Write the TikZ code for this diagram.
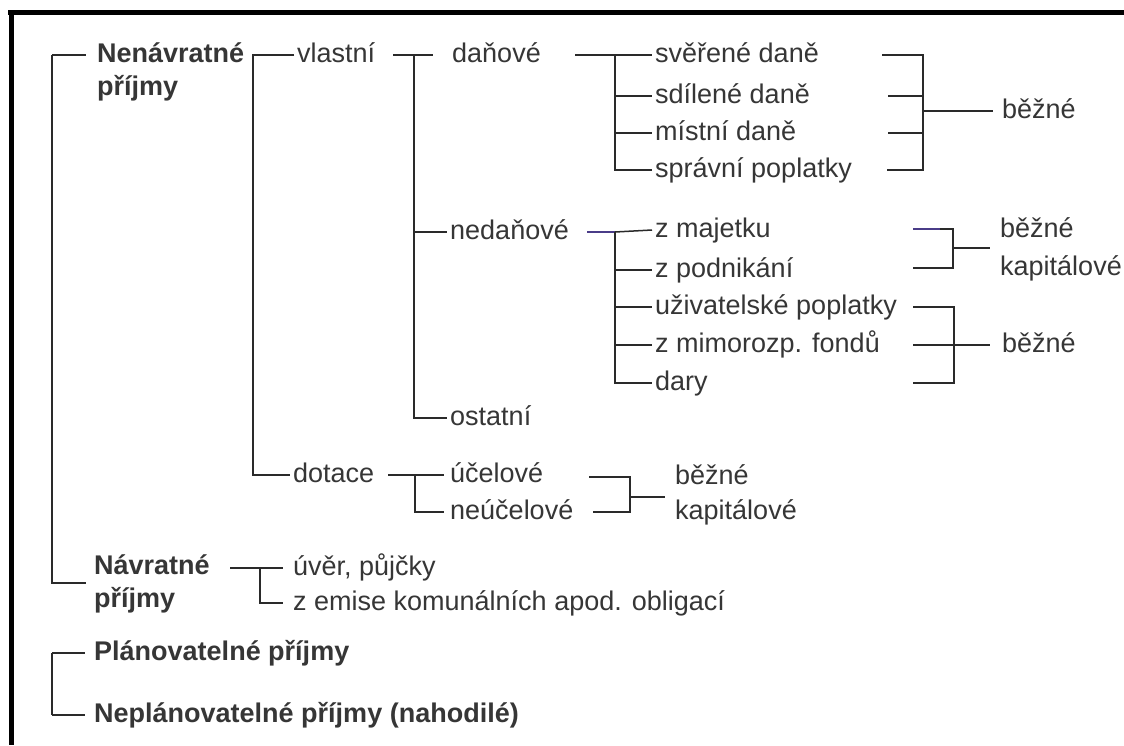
\documentclass[tikz,border=0pt]{standalone}
\usepackage{fontspec}
\setmainfont{Liberation Sans}
\definecolor{txt}{HTML}{363636}
\definecolor{ln}{HTML}{2A2A2A}
\definecolor{pur}{HTML}{4A3C88}
\begin{document}
\begin{tikzpicture}[x=1pt,y=-1pt,
  lbl/.style={anchor=west,inner xsep=3pt,inner ysep=0pt,text height=20pt,text depth=6pt,text=txt,font=\fontsize{27}{33}\selectfont},
  blbl/.style={lbl,font=\fontsize{27}{33}\selectfont\bfseries},
  conn/.style={draw=ln,line width=1.5pt},
  pconn/.style={draw=pur,line width=1.5pt},
  frameline/.style={draw=black,line width=5pt}]
\fill[white] (0,0) rectangle (1124,745);
\useasboundingbox (0,0) rectangle (1124,745);
% frame
\draw[frameline] (8,12) -- (1124,12);
\draw[frameline] (11,10) -- (11,745);

% text nodes
\node[blbl] (nen1) at (94,55) {Nenávratné};
\node[blbl] (nen2) at (94,88) {příjmy};
\node[lbl] (vl) at (294,55) {vlastní};
\node[lbl] (dan) at (449,55) {daňové};
\node[lbl] (sv) at (652,55) {svěřené daně};
\node[lbl] (sd) at (652,96) {sdílené daně};
\node[lbl] (mi) at (652,133) {místní daně};
\node[lbl] (sp) at (652,170) {správní poplatky};
\node[lbl] (bz1) at (999,111) {běžné};
\node[lbl] (ned) at (447,232) {nedaňové};
\node[lbl] (zm) at (652,230) {z majetku};
\node[lbl] (zp) at (652,270) {z podnikání};
\node[lbl] (uz) at (652,307) {uživatelské poplatky};
\node[lbl] (zmi) at (652,345) {z mimorozp. fondů};
\node[lbl] (dar) at (652,383) {dary};
\node[lbl] (bz2) at (997,230) {běžné};
\node[lbl] (kap2) at (997,268) {kapitálové};
\node[lbl] (bz3) at (999,345) {běžné};
\node[lbl] (ost) at (447,418) {ostatní};
\node[lbl] (dot) at (290,475) {dotace};
\node[lbl] (uc) at (447,475) {účelové};
\node[lbl] (neu) at (447,512) {neúčelové};
\node[lbl] (bz4) at (672,477) {běžné};
\node[lbl] (kap4) at (672,512) {kapitálové};
\node[blbl] (nav1) at (91,567) {Návratné};
\node[blbl] (nav2) at (91,600) {příjmy};
\node[lbl] (uv) at (290,568) {úvěr, půjčky};
\node[lbl] (ze) at (290,603) {z emise komunálních apod. obligací};
\node[blbl] (pl) at (91,653) {Plánovatelné příjmy};
\node[blbl] (npl) at (91,715) {Neplánovatelné příjmy (nahodilé)};

% coordinates
\coordinate (aTop) at (52,55);
\coordinate (aBot) at (52,583);
\coordinate (aNav) at (86,583);
\coordinate (bTop) at (253,55);
\coordinate (bBot) at (253,475);
\coordinate (cIn) at (393,55);
\coordinate (cTop) at (414,55);
\coordinate (cBot) at (414,418);
\coordinate (cNed) at (414,232);
\coordinate (dIn) at (575,55);
\coordinate (dTop) at (615,55);
\coordinate (dBot) at (615,170);
\coordinate (dSd) at (615,96);
\coordinate (dMi) at (615,133);
\coordinate (eIn) at (587,232);
\coordinate (eTop) at (615,232);
\coordinate (eBot) at (615,383);
\coordinate (eZp) at (615,270);
\coordinate (eUz) at (615,307);
\coordinate (eZmi) at (615,345);
% right bracket 1
\coordinate (r1a) at (882,55);
\coordinate (r1b) at (888,96);
\coordinate (r1c) at (888,133);
\coordinate (r1d) at (887,170);
\coordinate (r1Top) at (923,55);
\coordinate (r1Bot) at (923,170);
\coordinate (r1Mid) at (923,111);
% right bracket 2
\coordinate (r2a) at (913,229);
\coordinate (r2ap) at (940,229);
\coordinate (r2b) at (913,268);
\coordinate (r2Top) at (953,229);
\coordinate (r2Bot) at (953,268);
\coordinate (r2Mid) at (953,248);
\coordinate (r2Out) at (990,248);
% right bracket 3
\coordinate (r3a) at (913,307);
\coordinate (r3b) at (913,345);
\coordinate (r3c) at (913,383);
\coordinate (r3Top) at (954,307);
\coordinate (r3Bot) at (954,383);
\coordinate (r3Mid) at (954,345);
% dotace
\coordinate (fIn) at (388,475);
\coordinate (fTop) at (415,475);
\coordinate (fBot) at (415,512);
\coordinate (r4a) at (589,477);
\coordinate (r4b) at (593,512);
\coordinate (r4Top) at (630,477);
\coordinate (r4Bot) at (630,512);
\coordinate (r4Mid) at (630,497);
\coordinate (r4Out) at (665,497);
% navratne
\coordinate (gIn) at (230,568);
\coordinate (gTop) at (260,568);
\coordinate (gBot) at (260,603);
% planovatelne
\coordinate (hTop) at (52,653);
\coordinate (hBot) at (52,715);

% connectors
\draw[conn,shorten >=8pt] (aTop) -- (nen1.west);
\draw[conn] (aTop) -- (aBot) -- (aNav);
\draw[conn] (vl.west) -- (bTop) -- (bBot) -- (dot.west);
\draw[conn,shorten >=16pt] (cIn) -- (dan.west);
\draw[conn] (cTop) -- (cBot) -- (ost.west);
\draw[conn] (cNed) -- (ned.west);
\draw[conn] (dIn) -- (sv.west);
\draw[conn] (dTop) -- (dBot) -- (sp.west);
\draw[conn] (dSd) -- (sd.west);
\draw[conn] (dMi) -- (mi.west);
\draw[pconn] (eIn) -- (eTop);
\draw[conn] (eTop) -- (zm.west);
\draw[conn] (eTop) -- (eBot) -- (dar.west);
\draw[conn] (eZp) -- (zp.west);
\draw[conn] (eUz) -- (uz.west);
\draw[conn] (eZmi) -- (zmi.west);
\draw[conn] (r1a) -- (r1Top) -- (r1Bot) -- (r1d);
\draw[conn] (r1b) -- (r1b -| r1Top);
\draw[conn] (r1c) -- (r1c -| r1Top);
\draw[conn,shorten >=6pt] (r1Mid) -- (bz1.west);
\draw[pconn] (r2a) -- (r2ap);
\draw[conn] (r2ap) -- (r2Top) -- (r2Bot) -- (r2b);
\draw[conn] (r2Mid) -- (r2Out);
\draw[conn] (r3a) -- (r3Top) -- (r3Bot) -- (r3c);
\draw[conn] (r3b) -- (r3Mid);
\draw[conn,shorten >=9pt] (r3Mid) -- (bz3.west);
\draw[conn,shorten >=3pt] (fIn) -- (uc.west);
\draw[conn,shorten >=3pt] (fTop) -- (fBot) -- (neu.west);
\draw[conn] (r4a) -- (r4Top) -- (r4Bot) -- (r4b);
\draw[conn] (r4Mid) -- (r4Out);
\draw[conn,shorten >=7pt] (gIn) -- (uv.west);
\draw[conn,shorten >=7pt] (gTop) -- (gBot) -- (ze.west);
\draw[conn,shorten >=6pt] (hTop) -- (pl.west);
\draw[conn] (hTop) -- (hBot);
\draw[conn,shorten >=6pt] (hBot) -- (npl.west);
\end{tikzpicture}
\end{document}
